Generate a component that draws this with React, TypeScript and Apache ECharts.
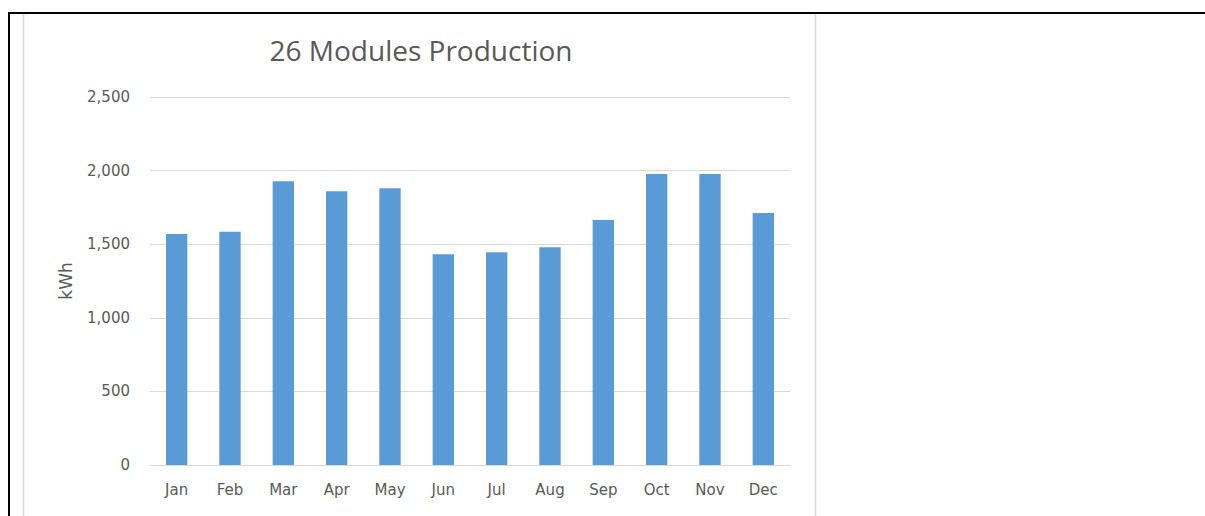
import React, { useEffect, useRef } from "react";
import * as echarts from "echarts";

const categories = ["Jan", "Feb", "Mar", "Apr", "May", "Jun", "Jul", "Aug", "Sep", "Oct", "Nov", "Dec"];
const production = [1569, 1585, 1927, 1859, 1880, 1431, 1445, 1479, 1664, 1977, 1977, 1712];
const titleText = "26 Modules Production";
const yAxisName = "kWh";

export default function App() {
  const ref = useRef<HTMLDivElement>(null);
  useEffect(() => {
    if (!ref.current) return;
    const chart = echarts.init(ref.current, null, { renderer: "svg" });
    chart.setOption({
      animation: false,
      backgroundColor: "#ffffff",
      title: {
        text: titleText,
        left: 416,
        top: 31,
        textAlign: "center",
        textStyle: { fontFamily: "Open Sans", fontSize: 28, fontWeight: "normal", color: "#595959" },
      },
      graphic: [
        { type: "rect", shape: { x: 23.5, y: 13.5, width: 792, height: 520 }, style: { fill: "none", stroke: "#d9d9d9", lineWidth: 1.5 }, z: -1 },
        { type: "line", shape: { x1: 8, y1: 13, x2: 1205, y2: 13 }, style: { stroke: "#000000", lineWidth: 2 } },
        { type: "line", shape: { x1: 9, y1: 12, x2: 9, y2: 516 }, style: { stroke: "#000000", lineWidth: 2 } },
      ],
      grid: { left: 150, right: 415, top: 97, bottom: 51 },
      xAxis: {
        type: "category",
        data: categories,
        axisLine: { lineStyle: { color: "#d9d9d9", width: 1 } },
        axisTick: { show: false },
        axisLabel: { color: "#595959", fontFamily: "DejaVu Sans", fontSize: 15, margin: 17 },
      },
      yAxis: {
        type: "value",
        min: 0,
        max: 2500,
        interval: 500,
        name: yAxisName,
        nameLocation: "middle",
        nameGap: 76,
        nameTextStyle: { color: "#595959", fontFamily: "DejaVu Sans", fontSize: 17 },
        axisLine: { show: false },
        axisTick: { show: false },
        splitLine: { lineStyle: { color: "#d9d9d9", width: 1 } },
        axisLabel: {
          color: "#595959",
          fontFamily: "DejaVu Sans",
          fontSize: 15,
          margin: 20,
          formatter: (v: number) => v.toLocaleString("en-US"),
        },
      },
      series: [
        {
          type: "bar",
          data: production,
          barWidth: "40%",
          itemStyle: { color: "#5b9bd5" },
        },
      ],
    });
    return () => chart.dispose();
  }, []);
  return <div ref={ref} style={{ position: "absolute", left: 0, top: 0, width: 1205, height: 516 }} />;
}
